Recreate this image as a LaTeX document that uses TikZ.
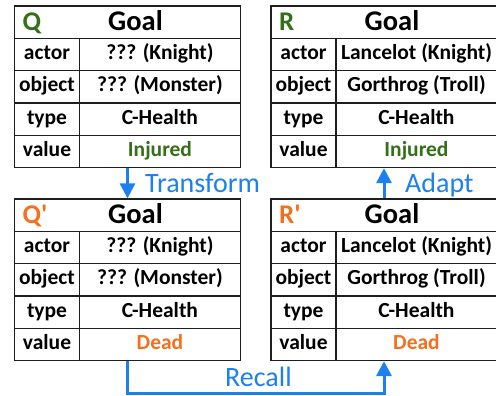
\documentclass[tikz,border=0pt]{standalone}
\usepackage{fontspec}
\setmainfont{Carlito}
\usetikzlibrary{arrows.meta}
\definecolor{fblue}{RGB}{28,128,240}
\definecolor{fgreen}{RGB}{52,112,24}
\definecolor{forange}{RGB}{245,112,30}
\definecolor{fline}{RGB}{30,30,30}
\tikzset{
  cell/.style={draw=fline, line width=1.3pt, minimum height=32.3pt, inner sep=0pt,
    font=\bfseries\fontsize{21.5}{25}\selectfont, text height=14pt, text depth=4pt},
  frame/.style={draw=fline, line width=1.3pt, minimum width=226pt, minimum height=161.5pt, inner sep=0pt},
  goal/.style={font=\bfseries\fontsize{28.5}{32}\selectfont, inner sep=0pt, text height=18pt, text depth=1pt},
  tname/.style={font=\bfseries\fontsize{27}{32}\selectfont, inner sep=0pt, text height=18pt, text depth=1pt},
  arr/.style={draw=fblue, line width=3pt, -{Triangle[width=15pt,length=15pt]}},
  lbl/.style={text=fblue, font=\fontsize{28}{32}\selectfont, inner sep=0pt}
}
\newcommand\gtable[5]{%
  \node[frame] (#1) at (113,80.75) {};
  \node[cell, minimum width=226pt] (#1-h) at (113,16.15) {};
  \node[tname, anchor=west] (#1-n) at (8,16.15) {#2};
  \node[goal] (#1-g) at (121,16.15) {Goal};
  \node[cell, minimum width=65pt] (#1-a1) at (32.5,48.45) {actor};
  \node[cell, minimum width=161pt] (#1-a2) at (145.5,48.45) {#3};
  \node[cell, minimum width=65pt] (#1-o1) at (32.5,80.75) {object};
  \node[cell, minimum width=161pt] (#1-o2) at (145.5,80.75) {#4};
  \node[cell, minimum width=65pt] (#1-t1) at (32.5,113.05) {type};
  \node[cell, minimum width=161pt] (#1-t2) at (145.5,113.05) {C-Health};
  \node[cell, minimum width=65pt] (#1-v1) at (32.5,145.35) {value};
  \node[cell, minimum width=161pt] (#1-v2) at (145.5,145.35) {#5};
}
\begin{document}
\begin{tikzpicture}[x=1pt,y=-1pt]
\useasboundingbox (0,0) rectangle (496,396);
\clip (0,0) rectangle (496,396);
\fill[white] (0,0) rectangle (496,396);
\begin{scope}[shift={(14.5,6)}]
  \gtable{Q}{\textcolor{fgreen}{Q}}{??? (Knight)}{??? (Monster)}{\textcolor{fgreen}{Injured}}
\end{scope}
\begin{scope}[shift={(271,6)}]
  \gtable{R}{\textcolor{fgreen}{R}}{Lancelot (Knight)}{Gorthrog (Troll)}{\textcolor{fgreen}{Injured}}
\end{scope}
\begin{scope}[shift={(14.5,199)}]
  \gtable{Qp}{\textcolor{forange}{Q\textquotesingle}}{??? (Knight)}{??? (Monster)}{\textcolor{forange}{Dead}}
\end{scope}
\begin{scope}[shift={(271,199)}]
  \gtable{Rp}{\textcolor{forange}{R\textquotesingle}}{Lancelot (Knight)}{Gorthrog (Troll)}{\textcolor{forange}{Dead}}
\end{scope}
\draw[arr] (Q.south) -- (Qp.north);
\draw[arr] (Rp.north) -- (R.south);
\draw[arr] (Qp.south) -- ++(0,32) -| (Rp.south);
\node[lbl, anchor=base west] (tf) at (145,193) {Transform};
\node[lbl, anchor=base west] (ad) at (405,192) {Adapt};
\node[lbl, anchor=base west] (rc) at (225,386) {Recall};
\end{tikzpicture}
\end{document}
